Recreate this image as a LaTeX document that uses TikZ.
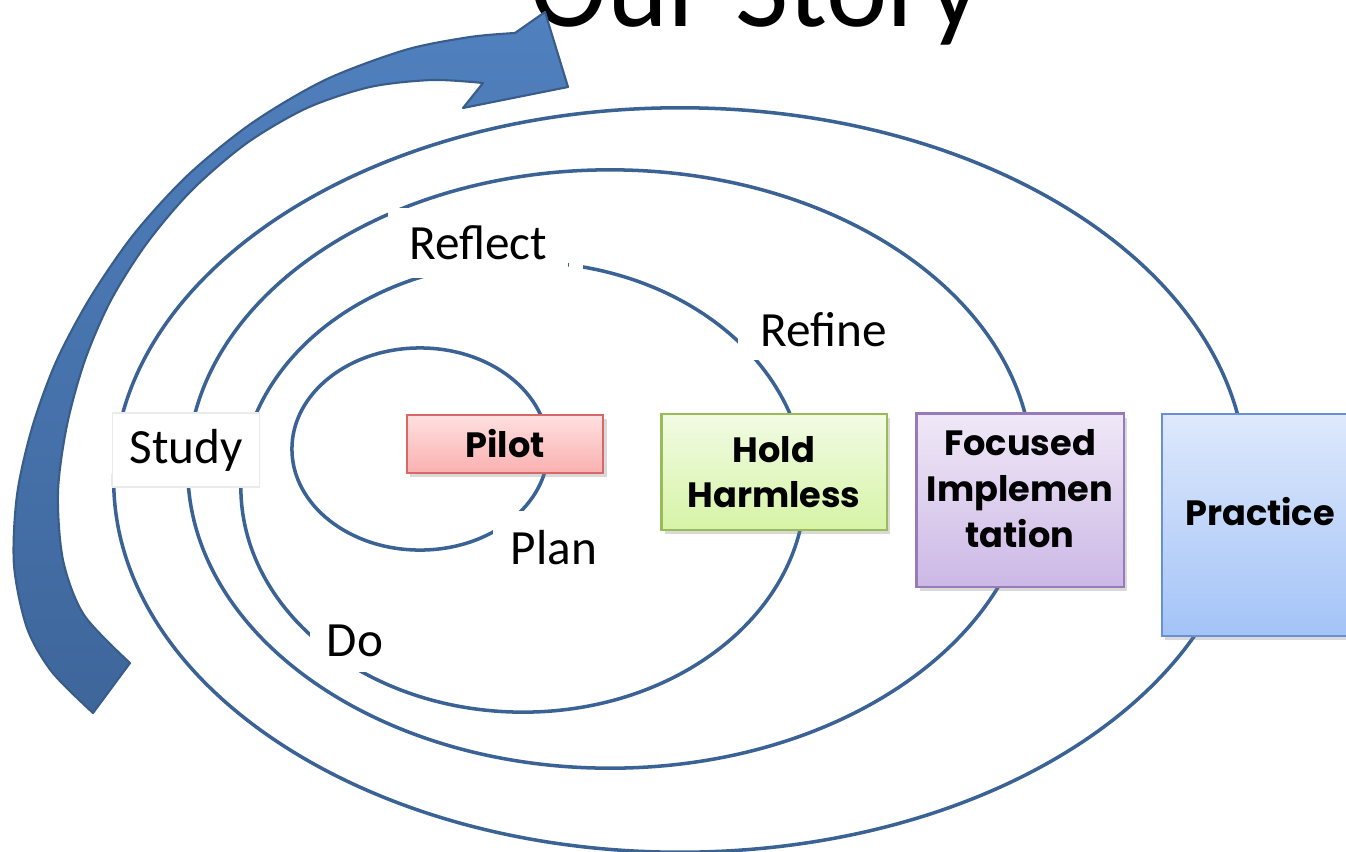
\documentclass[tikz,border=0pt]{standalone}
\usepackage{fontspec}
\usepackage{xcolor}
\usepackage{tikz}
\usetikzlibrary{shadows}
\setmainfont{Carlito}
\newfontfamily\boxfont{Poppins}
\definecolor{ringblue}{RGB}{58, 98, 148}
\definecolor{arrowtop}{RGB}{80, 128, 190}
\definecolor{arrowbot}{RGB}{62, 102, 155}
\definecolor{arrowline}{RGB}{56, 93, 138}
\definecolor{pilottop}{RGB}{255, 224, 224}
\definecolor{pilotbot}{RGB}{250, 176, 176}
\definecolor{pilotline}{RGB}{214, 104, 104}
\definecolor{holdtop}{RGB}{242, 251, 228}
\definecolor{holdbot}{RGB}{214, 244, 166}
\definecolor{holdline}{RGB}{155, 187, 89}
\definecolor{focustop}{RGB}{240, 232, 247}
\definecolor{focusbot}{RGB}{204, 184, 230}
\definecolor{focusline}{RGB}{150, 122, 186}
\definecolor{practop}{RGB}{222, 233, 252}
\definecolor{pracbot}{RGB}{163, 195, 247}
\definecolor{pracline}{RGB}{104, 144, 212}

\begin{document}
\begin{tikzpicture}[
  x=0.01cm, y=-0.01cm,
  ring/.style={draw=ringblue, line width=1pt},
  cyclelabel/.style={rectangle, fill=white, inner sep=0pt, font=\fontsize{14}{16}\selectfont},
  phase/.style={rectangle, line width=0.6pt, align=center, inner sep=2pt,
    font=\boxfont\bfseries\fontsize{10}{13}\selectfont,
    drop shadow={shadow xshift=1pt, shadow yshift=-1.2pt, opacity=0.3}},
  pilotbox/.style={phase, top color=pilottop, bottom color=pilotbot, draw=pilotline},
  holdbox/.style={phase, top color=holdtop, bottom color=holdbot, draw=holdline},
  focusbox/.style={phase, top color=focustop, bottom color=focusbot, draw=focusline},
  pracbox/.style={phase, top color=practop, bottom color=pracbot, draw=pracline}
]
  \useasboundingbox (0,0) rectangle (1346,851);

  \node[font=\fontsize{33}{36}\selectfont, anchor=base] (title) at (756,26) {Our Story};

  \draw[ring] (680,480) ellipse [x radius=5.66cm, y radius=3.72cm];
  \draw[ring] (610,469) ellipse [x radius=4.22cm, y radius=2.99cm];
  \draw[ring] (523,487) ellipse [x radius=2.82cm, y radius=2.25cm];
  \draw[ring] (420,449) ellipse [x radius=1.28cm, y radius=1.01cm];

  \draw[draw=arrowline, line width=0.6pt, line join=round, top color=arrowtop, bottom color=arrowbot]
    plot[smooth] coordinates {(93,713) (52,672) (27,628) (14,565) (17,495) (32,428) (56,362) (90,298)
      (134,234) (188,175) (252,123) (325,80) (405,50) (470,37) (515,33)}
    -- (545,12) -- (568,87) -- (463,108)
    -- plot[smooth] coordinates {(483,83) (432,80) (370,87) (307,108) (247,143) (192,190) (147,243)
      (111,300) (85,360) (67,425) (58,492) (63,560) (84,615) (130,663)}
    -- cycle;

  \node[cyclelabel, minimum width=1.80cm, minimum height=0.70cm] (reflect) at (478,243) {Reflect};
  \node[cyclelabel, minimum width=1.72cm, minimum height=0.60cm] (refine) at (824,330) {Refine};
  \node[cyclelabel, draw=black!8, minimum width=1.47cm, minimum height=0.74cm] (study) at (186,450) {Study};
  \node[cyclelabel, minimum width=1.22cm, minimum height=0.73cm] (plan) at (554,548) {Plan};
  \node[cyclelabel, minimum width=0.90cm, minimum height=0.62cm] (do) at (355,641) {Do};
  \fill[white] (388,208) rectangle (reflect.north west);
  \fill[white] (reflect.south east) rectangle (583,262);

  \node[pilotbox, minimum width=1.96cm, minimum height=0.58cm] (pilot) at (505,444) {Pilot};
  \node[holdbox, minimum width=2.25cm, minimum height=1.16cm] (hold) at (774,472) {Hold\\Harmless};
  \node[focusbox, minimum width=2.07cm, minimum height=1.73cm, text depth=6.6pt] (focused) at (1020,500) {Focused\\Implemen\\tation};
  \node[pracbox, minimum width=1.96cm, minimum height=2.22cm, text depth=8pt] (practice) at (1260,525) {Practice};

\end{tikzpicture}
\end{document}
